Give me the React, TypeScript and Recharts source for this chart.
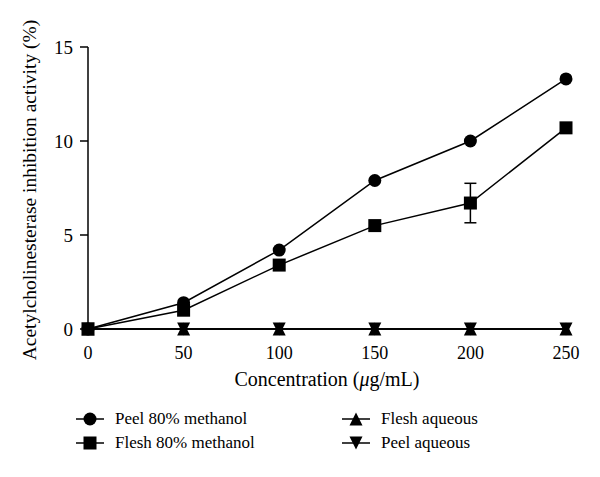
import { LineChart, Line, XAxis, YAxis, ErrorBar, Label } from "recharts";

// concentrations (µg/mL)
const concentrations = [0, 50, 100, 150, 200, 250];
// inhibition activity (%)
const peelMethanol = [0, 1.4, 4.2, 7.9, 10.0, 13.3];
const fleshMethanol = [0, 1.0, 3.4, 5.5, 6.7, 10.7];
const fleshMethanolErr = [0, 0, 0, 0, 1.05, 0];
const fleshAqueous = [0, 0, 0, 0, 0, 0];
const peelAqueous = [0, 0, 0, 0, 0, 0];

const xTicks = [0, 50, 100, 150, 200, 250];
const yTicks = [0, 5, 10, 15];

const FONT = '"Liberation Serif", "DejaVu Serif", serif';
const INK = "#000";

const data = concentrations.map((c, i) => ({
  conc: c,
  peelMeth: peelMethanol[i],
  fleshMeth: fleshMethanol[i],
  fleshMethErr: fleshMethanolErr[i],
  fleshAq: fleshAqueous[i],
  peelAq: peelAqueous[i],
}));

type Kind = "circle" | "square" | "up" | "down";

function Marker({ kind, cx, cy }: { kind: Kind; cx: number; cy: number }) {
  if (kind === "circle") return <circle cx={cx} cy={cy} r={6.5} fill={INK} />;
  if (kind === "square")
    return <rect x={cx - 6.5} y={cy - 6.5} width={13} height={13} fill={INK} />;
  if (kind === "up")
    return (
      <polygon
        points={`${cx},${cy - 6.5} ${cx + 6.5},${cy + 6.5} ${cx - 6.5},${cy + 6.5}`}
        fill={INK}
      />
    );
  return (
    <polygon
      points={`${cx - 6.5},${cy - 6.5} ${cx + 6.5},${cy - 6.5} ${cx},${cy + 6.5}`}
      fill={INK}
    />
  );
}

const dotOf = (kind: Kind) => (props: any) => (
  <Marker key={`${kind}-${props.index}`} kind={kind} cx={props.cx} cy={props.cy} />
);

function LegendItem({ kind, label, x, y }: { kind: Kind; label: string; x: number; y: number }) {
  return (
    <div style={{ position: "absolute", left: x, top: y - 10, height: 20, display: "flex", alignItems: "center" }}>
      <svg width={30} height={16} style={{ marginRight: 9 }}>
        <line x1={0} y1={8} x2={28} y2={8} stroke={INK} strokeWidth={1.5} />
        <Marker kind={kind} cx={14} cy={8} />
      </svg>
      <span>{label}</span>
    </div>
  );
}

export default function App() {
  return (
    <div
      style={{
        position: "absolute",
        left: 0,
        top: 0,
        width: 600,
        height: 477,
        background: "#fff",
        fontFamily: FONT,
        fontSize: 17,
        color: INK,
      }}
    >
      <LineChart
        width={600}
        height={477}
        data={data}
        margin={{ top: 47, right: 34, left: 0, bottom: 88 }}
      >
        <XAxis
          dataKey="conc"
          type="number"
          domain={[0, 250]}
          ticks={xTicks}
          height={60}
          tickLine={false}
          tickMargin={11}
          axisLine={{ stroke: INK, strokeWidth: 1.5 }}
          tick={{ fill: INK, fontSize: 18, fontFamily: FONT }}
        >
          <Label
            content={() => (
              <text x={327} y={386} textAnchor="middle" fill={INK} fontSize={20} fontFamily={FONT}>
                Concentration (<tspan fontStyle="italic">μ</tspan>g/mL)
              </text>
            )}
          />
        </XAxis>
        <YAxis
          type="number"
          domain={[0, 15]}
          ticks={yTicks}
          width={88}
          tickSize={8}
          tickMargin={7}
          tickLine={{ stroke: INK, strokeWidth: 1.5 }}
          axisLine={{ stroke: INK, strokeWidth: 1.5 }}
          tick={{ fill: INK, fontSize: 19, fontFamily: FONT }}
        >
          <Label
            content={() => (
              <text
                x={36}
                y={190}
                transform="rotate(-90 36 190)"
                textAnchor="middle"
                fill={INK}
                fontSize={19.5}
                fontFamily={FONT}
              >
                Acetylcholinesterase inhibition activity (%)
              </text>
            )}
          />
        </YAxis>
        <Line
          dataKey="peelAq"
          stroke={INK}
          strokeWidth={1.5}
          dot={dotOf("down")}
          isAnimationActive={false}
        />
        <Line
          dataKey="fleshAq"
          stroke={INK}
          strokeWidth={1.5}
          dot={dotOf("up")}
          isAnimationActive={false}
        />
        <Line
          dataKey="peelMeth"
          stroke={INK}
          strokeWidth={1.5}
          dot={dotOf("circle")}
          isAnimationActive={false}
        />
        <Line
          dataKey="fleshMeth"
          stroke={INK}
          strokeWidth={1.5}
          dot={dotOf("square")}
          isAnimationActive={false}
        >
          <ErrorBar dataKey="fleshMethErr" direction="y" width={6} stroke={INK} strokeWidth={1.5} />
        </Line>
      </LineChart>
      <LegendItem kind="circle" label="Peel 80% methanol" x={76} y={419} />
      <LegendItem kind="square" label="Flesh 80% methanol" x={76} y={443} />
      <LegendItem kind="up" label="Flesh aqueous" x={342} y={419} />
      <LegendItem kind="down" label="Peel aqueous" x={342} y={443} />
    </div>
  );
}
